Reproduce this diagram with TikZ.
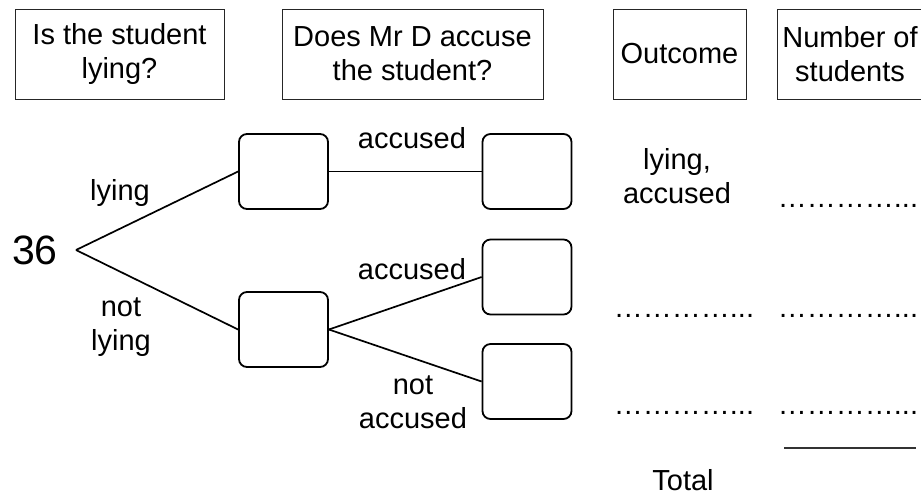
\documentclass[tikz,border=0pt]{standalone}
\usepackage{fontspec}
\setmainfont{Liberation Sans}
\tikzset{
  head/.style={draw=black!85, line width=0.5pt, minimum height=45pt, align=center, inner sep=0pt},
  pick/.style={draw, line width=0.9pt, rounded corners=4pt, minimum width=44.5pt, minimum height=37.5pt},
  lab/.style={align=center, inner sep=0pt},
  blank/.style={inner sep=0pt, anchor=base},
}
\newcommand{\dotrow}{…………...}
\begin{document}
\begin{tikzpicture}[x=0.5pt, y=-0.5pt, font=\fontsize{14.5}{17}\selectfont]
  \useasboundingbox (0,0) rectangle (921,495);
  % column heads
  \node[head, minimum width=104.5pt] (hlie) at (119.5,54) {Is the student\\lying?};
  \node[head, minimum width=130.5pt] (hacc) at (412.5,54) {Does Mr D accuse\\the student?};
  \node[head, minimum width=66.5pt] (hout) at (679.5,54) {Outcome};
  \node[head, minimum width=73pt] (hnum) at (850,54) {Number of\\students};
  % tree
  \node[inner sep=0pt, font=\fontsize{20.5}{24}\selectfont] (total) at (35,250) {36};
  \coordinate (root) at (76,250);
  \node[pick] (lie) at (283.5,171.5) {};
  \node[pick] (notlie) at (283.5,329.5) {};
  \node[pick] (lieacc) at (527,171.5) {};
  \node[pick] (notacc) at (527,277) {};
  \node[pick] (notnot) at (527,381.5) {};
  \begin{scope}[line width=0.85pt]
    \draw (root) to (lie.west);
    \draw (root) to (notlie.west);
    \draw (lie.east) to (lieacc.west);
    \draw (notlie.east) to (notacc.west);
    \draw (notlie.east) to (notnot.west);
  \end{scope}
  % branch labels
  \node[lab] (l1) at (120,193) {lying};
  \node[lab] (l2) at (121,327) {not\\lying};
  \node[lab] (l3) at (412,138) {accused};
  \node[lab] (l4) at (412,269) {accused};
  \node[lab] (l5) at (413,402.5) {not\\accused};
  % outcomes and counts
  \node[lab] (o1) at (677,176) {lying,\\accused};
  \node[blank] (n1) at (848,207) {\dotrow};
  \node[blank] (o2) at (684,317) {\dotrow};
  \node[blank] (n2) at (848,317) {\dotrow};
  \node[blank] (o3) at (684,414) {\dotrow};
  \node[blank] (n3) at (848,414) {\dotrow};
  \coordinate (sumL) at (784,448);
  \coordinate (sumR) at (916,448);
  \draw[line width=0.6pt, black!80] (sumL) -- (sumR);
  \node[lab] (tot) at (683,480) {Total};
\end{tikzpicture}
\end{document}
